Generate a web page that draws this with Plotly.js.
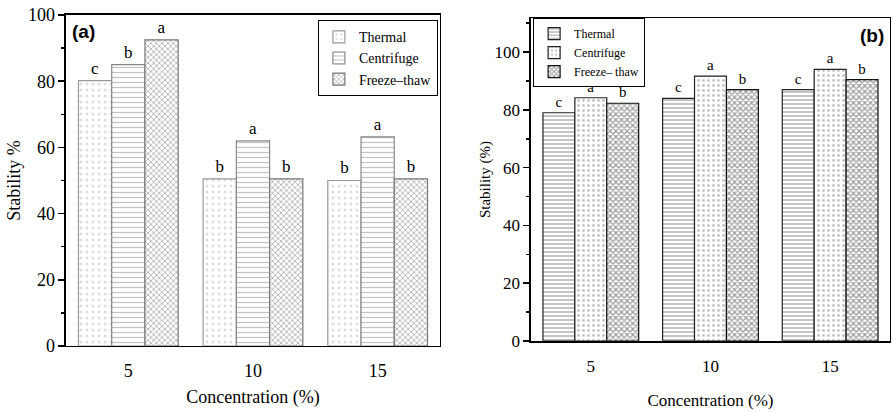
<!DOCTYPE html>
<html><head><meta charset="utf-8">
<script src="https://cdn.plot.ly/plotly-3.0.1.min.js"></script>
<style>html,body{margin:0;padding:0;background:#fff}</style>
</head><body>
<div id="chart" style="width:893px;height:412px"></div>
<script>
const categories = ['5', '10', '15'];
const seriesNames = ['Thermal', 'Centrifuge', 'Freeze\u2013thaw'];
const seriesNamesB = ['Thermal', 'Centrifuge', 'Freeze\u2013 thaw'];
// Panel (a)
const thermalA = [80.2, 50.5, 50.0];
const centrifugeA = [85.0, 62.0, 63.2];
const freezeA = [92.5, 50.5, 50.5];
const lettersThermalA = ['c', 'b', 'b'];
const lettersCentrifugeA = ['b', 'a', 'a'];
const lettersFreezeA = ['a', 'b', 'b'];
// Panel (b)
const thermalB = [79.0, 84.0, 87.0];
const centrifugeB = [84.2, 91.7, 94.0];
const freezeB = [82.3, 87.0, 90.5];
const lettersThermalB = ['c', 'c', 'c'];
const lettersCentrifugeB = ['a', 'a', 'a'];
const lettersFreezeB = ['b', 'b', 'b'];

const serif = 'Liberation Serif';

function bar(name, x, y, text, xa, ya, leg, pattern, lineColor, fs) {
  return {
    type: 'bar', name: name, x: x, y: y, text: text,
    textposition: 'outside', textfont: {family: serif, size: fs, color: '#000'}, cliponaxis: false,
    xaxis: xa, yaxis: ya, legend: leg,
    marker: {color: '#fff', pattern: pattern, line: {color: lineColor, width: 1.2}},
    hoverinfo: 'x+y+name'
  };
}

const data = [
  bar(seriesNames[0], categories, thermalA, lettersThermalA, 'x', 'y', 'legend',
      {shape: '.', size: 6, solidity: 0.2, fgcolor: '#bbb', bgcolor: '#fff', fillmode: 'overlay'}, '#999', 17),
  bar(seriesNames[1], categories, centrifugeA, lettersCentrifugeA, 'x', 'y', 'legend',
      {shape: '-', size: 5, solidity: 0.25, fgcolor: '#888', bgcolor: '#fff', fillmode: 'overlay'}, '#888', 17),
  bar(seriesNames[2], categories, freezeA, lettersFreezeA, 'x', 'y', 'legend',
      {shape: 'x', size: 4, solidity: 0.4, fgcolor: '#666', bgcolor: '#fff', fillmode: 'overlay'}, '#777', 17),
  bar(seriesNamesB[0], categories, thermalB, lettersThermalB, 'x2', 'y2', 'legend2',
      {shape: '-', size: 4, solidity: 0.35, fgcolor: '#555', bgcolor: '#fff', fillmode: 'overlay'}, '#222', 15),
  bar(seriesNamesB[1], categories, centrifugeB, lettersCentrifugeB, 'x2', 'y2', 'legend2',
      {shape: '.', size: 5, solidity: 0.25, fgcolor: '#888', bgcolor: '#fff', fillmode: 'overlay'}, '#222', 15),
  bar(seriesNamesB[2], categories, freezeB, lettersFreezeB, 'x2', 'y2', 'legend2',
      {shape: 'x', size: 4, solidity: 0.5, fgcolor: '#333', bgcolor: '#fff', fillmode: 'overlay'}, '#111', 15)
];

const tickFont = {family: serif, size: 18, color: '#000'};
const xaxisBase = {
  type: 'category', showline: true, linecolor: '#000', linewidth: 1.5, mirror: true,
  ticks: '', tickfont: tickFont, showgrid: false, zeroline: false, automargin: false, range: [-0.5, 2.5]
};
const yaxisBase = {
  showline: true, linecolor: '#000', linewidth: 1.5, mirror: true,
  ticks: 'outside', ticklen: 6, tickwidth: 1.5, tickcolor: '#000', dtick: 20,
  minor: {dtick: 10, ticks: 'outside', ticklen: 3, tickwidth: 1.5, tickcolor: '#000'},
  tickfont: tickFont, showgrid: false, zeroline: false, automargin: false
};

const layout = {
  width: 893, height: 412,
  margin: {l: 0, r: 0, t: 0, b: 0},
  paper_bgcolor: '#fff', plot_bgcolor: '#fff',
  barmode: 'group', bargap: 0.2, bargroupgap: 0,
  font: {family: serif, color: '#000'},
  xaxis: Object.assign({}, xaxisBase, {domain: [0.0739, 0.4927], anchor: 'y', ticklabelstandoff: 8,
    title: {text: 'Concentration (%)', font: {family: serif, size: 18, color: '#000'}, standoff: 10}}),
  yaxis: Object.assign({}, yaxisBase, {domain: [0.1602, 0.9636], anchor: 'x', range: [0, 100],
    title: {text: 'Stability %', font: {family: serif, size: 18, color: '#000'}, standoff: 2}}),
  xaxis2: Object.assign({}, xaxisBase, {domain: [0.5946, 0.9966], anchor: 'y2', ticklabelstandoff: 9,
    tickfont: {family: serif, size: 17, color: '#000'},
    title: {text: 'Concentration (%)', font: {family: serif, size: 17, color: '#000'}, standoff: 19}}),
  yaxis2: Object.assign({}, yaxisBase, {domain: [0.1723, 0.9563], anchor: 'x2', range: [0, 111.8],
    tickfont: {family: serif, size: 17, color: '#000'},
    title: {text: 'Stability (%)', font: {family: serif, size: 15, color: '#000'}, standoff: 0}}),
  legend: {x: 0.356, y: 0.951, xanchor: 'left', yanchor: 'top', bgcolor: '#fff',
    bordercolor: '#000', borderwidth: 1, font: {family: serif, size: 14, color: '#000'},
    tracegroupgap: 0, itemwidth: 30},
  legend2: {x: 0.597, y: 0.956, xanchor: 'left', yanchor: 'top', bgcolor: '#fff',
    bordercolor: '#000', borderwidth: 1, font: {family: serif, size: 12, color: '#000'},
    tracegroupgap: 0, itemwidth: 30},
  showlegend: true,
  annotations: [
    {text: '<b>(a)</b>', xref: 'paper', yref: 'paper', x: 0.078, y: 0.955, xanchor: 'left', yanchor: 'top',
      showarrow: false, font: {family: 'Liberation Sans', size: 19, color: '#000'}},
    {text: '<b>(b)</b>', xref: 'paper', yref: 'paper', x: 0.992, y: 0.945, xanchor: 'right', yanchor: 'top',
      showarrow: false, font: {family: 'Liberation Sans', size: 19, color: '#000'}}
  ]
};

Plotly.newPlot('chart', data, layout, {displayModeBar: false, staticPlot: true});
</script>
</body></html>
